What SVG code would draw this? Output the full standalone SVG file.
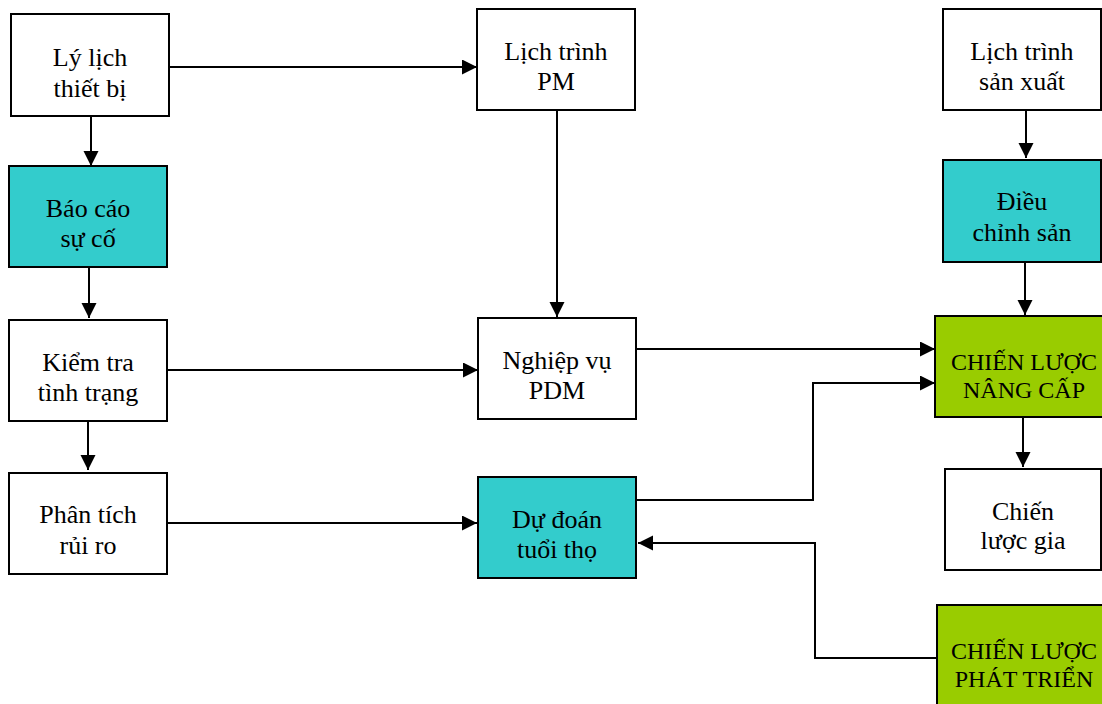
<svg xmlns="http://www.w3.org/2000/svg" width="1102" height="704" viewBox="0 0 1102 704">
<style>
.box{stroke:#000;stroke-width:2}
.w{fill:#fff}
.t{fill:#33CCCC}
.g{fill:#99CC00}
.lbl{font-family:"Liberation Serif","Times New Roman",serif;font-size:26px;fill:#000;text-anchor:middle}
.cap{font-family:"Liberation Serif","Times New Roman",serif;font-size:24px;fill:#000;text-anchor:middle}
.c{fill:none;stroke:#000;stroke-width:2;marker-end:url(#ah)}
</style>
<defs>
<marker id="ah" markerUnits="userSpaceOnUse" markerWidth="16" markerHeight="16" refX="15" refY="7.5" orient="auto">
<path d="M0,0 L15,7.5 L0,15 z" fill="#000"/>
</marker>
</defs>
<rect width="1102" height="704" fill="#fff"/>
<g id="connectors">
<path class="c" d="M169,67 H477"/>
<path class="c" d="M91,116 V166"/>
<path class="c" d="M89,267 V318"/>
<path class="c" d="M167,370 H478"/>
<path class="c" d="M88,421 V470"/>
<path class="c" d="M167,523 H477"/>
<path class="c" d="M557,110 V317"/>
<path class="c" d="M1026,110 V158"/>
<path class="c" d="M1025,262 V315"/>
<path class="c" d="M636,349 H935"/>
<path class="c" d="M636,500 H813 V383 H935"/>
<path class="c" d="M937,658 H815 V543 H638"/>
<path class="c" d="M1023,417 V467"/>
</g>
<g id="ly-lich">
<rect class="box w" x="11" y="14" width="158" height="102"/>
<text class="lbl" x="90" y="66">Lý lịch</text>
<text class="lbl" x="90" y="97">thiết bị</text>
</g>
<g id="bao-cao">
<rect class="box t" x="9" y="166" width="158" height="101"/>
<text class="lbl" x="88" y="217">Báo cáo</text>
<text class="lbl" x="88" y="247">sự cố</text>
</g>
<g id="kiem-tra">
<rect class="box w" x="9" y="320" width="158" height="101"/>
<text class="lbl" x="88" y="371">Kiểm tra</text>
<text class="lbl" x="88" y="401">tình trạng</text>
</g>
<g id="phan-tich">
<rect class="box w" x="9" y="473" width="158" height="101"/>
<text class="lbl" x="88" y="523">Phân tích</text>
<text class="lbl" x="88" y="554">rủi ro</text>
</g>
<g id="lich-trinh-pm">
<rect class="box w" x="477" y="9" width="158" height="101"/>
<text class="lbl" x="556" y="60">Lịch trình</text>
<text class="lbl" x="556" y="90">PM</text>
</g>
<g id="nghiep-vu">
<rect class="box w" x="478" y="318" width="158" height="101"/>
<text class="lbl" x="557" y="369">Nghiệp vụ</text>
<text class="lbl" x="557" y="399">PDM</text>
</g>
<g id="du-doan">
<rect class="box t" x="478" y="477" width="158" height="101"/>
<text class="lbl" x="557" y="528">Dự đoán</text>
<text class="lbl" x="557" y="558">tuổi thọ</text>
</g>
<g id="lich-trinh-sx">
<rect class="box w" x="943" y="9" width="158" height="101"/>
<text class="lbl" x="1022" y="60">Lịch trình</text>
<text class="lbl" x="1022" y="90">sản xuất</text>
</g>
<g id="dieu-chinh">
<rect class="box t" x="943" y="160" width="158" height="102"/>
<text class="lbl" x="1022" y="210">Điều</text>
<text class="lbl" x="1022" y="241">chỉnh sản</text>
</g>
<g id="nang-cap">
<rect class="box g" x="935" y="316" width="180" height="101"/>
<text class="cap" x="1024" y="370">CHIẾN LƯỢC</text>
<text class="cap" x="1024" y="398">NÂNG CẤP</text>
</g>
<g id="chien-luoc-gia">
<rect class="box w" x="945" y="469" width="156" height="101"/>
<text class="lbl" x="1023" y="520">Chiến</text>
<text class="lbl" x="1023" y="549">lược gia</text>
</g>
<g id="phat-trien">
<rect class="box g" x="937" y="605" width="180" height="110"/>
<text class="cap" x="1024" y="659">CHIẾN LƯỢC</text>
<text class="cap" x="1024" y="687">PHÁT TRIỂN</text>
</g>
</svg>
